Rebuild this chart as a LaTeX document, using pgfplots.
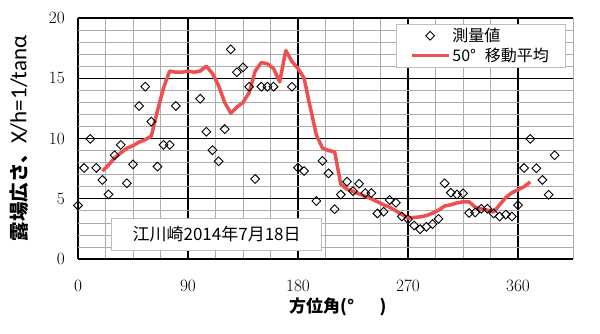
\documentclass[border=0pt]{standalone}
\usepackage{pgfplots}
\pgfplotsset{compat=1.18}
\usepackage{fontspec}
\setmainfont{Carlito}
\newfontfamily\cjk{Noto Sans CJK JP}
\definecolor{avgred}{RGB}{238,80,80}
\pgfplotsset{
  lineleg/.style={legend image code/.code={\draw[##1] (0pt,0pt) -- (37pt,0pt);}},
  markleg/.style={legend image code/.code={\draw[##1] plot coordinates {(18.5pt,0pt)};}},
}
\begin{document}
\begin{tikzpicture}
\useasboundingbox (-78pt,-75pt) rectangle (522pt,259pt);
\begin{axis}[
  at={(0pt,0pt)}, anchor=south west,
  scale only axis, width=495pt, height=241pt,
  xmin=0, xmax=405, ymin=0, ymax=20,
  xtick={0,90,180,270,360}, ytick={0,5,10,15,20},
  minor x tick num=3, minor y tick num=4,
  grid=both,
  major grid style={black, line width=1.3pt},
  minor grid style={gray!65, line width=0.6pt},
  extra x ticks={405}, extra x tick labels={},
  extra x tick style={grid=major, major grid style={gray!65, line width=0.6pt}},
  axis line style={draw=none},
  major tick length=0pt, minor tick length=0pt,
  tick label style={font=\fontsize{18}{20}\selectfont},
  xticklabel style={anchor=center, yshift=-27pt},
  yticklabel style={anchor=east, inner sep=0pt, xshift=-13pt},
  xlabel={\cjk\bfseries 方位角(°\kern1.5em)},
  xlabel style={at={(axis description cs:0.525,-0.199)}, anchor=center, font=\fontsize{17}{20}\selectfont},
  ylabel={{\cjk\bfseries\fontsize{19.5}{22}\selectfont 露場広さ、}{\fontsize{23}{24}\selectfont X/h=1/tanα}},
  ylabel style={at={(axis description cs:-0.1192,0.5)}, anchor=center},
  reverse legend,
  legend style={at={(axis description cs:0.984,0.975)}, anchor=north east,
    draw=gray!50, fill=white, font=\cjk\fontsize{16}{18}\selectfont,
    cells={anchor=west}, inner xsep=14pt, inner ysep=2pt, row sep=1pt},
]
\addplot[avgred, line width=3.5pt, line join=round, lineleg]
coordinates {
(20,7.3)(25,7.8)(30,8.4)(35,8.8)(40,9.2)(45,9.4)(50,9.7)(55,9.9)(60,10.2)
(65,12.3)(70,14.2)(75,15.6)(80,15.5)(85,15.5)(90,15.6)(95,15.5)(100,15.6)
(105,16.0)(110,15.4)(115,14.4)(120,13.0)(125,12.1)(130,12.6)(135,13.0)
(140,13.8)(145,15.6)(150,16.3)(155,16.2)(160,15.8)(165,14.7)(170,17.3)
(175,16.4)(180,15.8)(185,15.0)(190,12.6)(195,10.3)(200,9.2)(205,9.0)
(210,8.9)(215,6.2)(220,5.8)(225,5.6)(230,5.4)(235,5.2)(240,5.0)(245,4.75)
(250,4.5)(255,4.3)(260,4.0)(265,3.7)(270,3.4)(275,3.45)(280,3.5)(285,3.6)
(290,3.8)(295,4.05)(300,4.4)(305,4.5)(310,4.65)(315,4.75)(320,4.75)
(325,4.3)(330,4.15)(335,4.05)(340,3.9)(345,4.5)(350,5.1)(355,5.5)
(360,5.75)(365,6.0)(370,6.4)
};
\addlegendentry{50°\kern0.55em 移動平均}
\addplot[only marks, mark=square, mark size=3.1pt, line width=0.9pt, black,
  mark options={rotate=45, fill=white}, markleg]
coordinates {
(0,4.44)(5,7.56)(10,9.97)(15,7.56)(20,6.56)(25,5.36)(30,8.61)(35,9.47)
(40,6.28)(45,7.86)(50,12.7)(55,14.3)(60,11.4)(65,7.67)(70,9.47)(75,9.47)
(80,12.7)(100,13.3)(105,10.56)(110,9.03)(115,8.11)(120,10.78)(125,17.39)
(130,15.5)(135,15.9)(140,14.3)(145,6.64)(150,14.3)(155,14.3)(160,14.3)
(175,14.3)(180,7.58)(185,7.31)(195,4.81)(200,8.14)(205,7.11)(210,4.13)
(215,5.35)(220,6.42)(225,5.64)(230,6.25)(235,5.47)(240,5.47)(245,3.78)
(250,3.92)(255,4.89)(260,4.67)(265,3.53)(270,3.31)(275,2.78)(280,2.47)
(285,2.67)(290,2.89)(295,3.33)(300,6.28)(305,5.5)(310,5.36)(315,5.44)
(320,3.81)(325,3.86)(330,4.17)(335,4.17)(340,3.78)(345,3.53)(350,3.69)
(355,3.53)(360,4.47)(365,7.56)(370,9.97)(375,7.53)(380,6.56)(385,5.33)
(390,8.61)
};
\addlegendentry{測量値}
\node[draw=gray!50, fill=white, minimum width=210pt, minimum height=32pt,
  font=\cjk\fontsize{17}{20}\selectfont]
  at (axis description cs:0.280,0.104) {江川崎2014年7月18日};
\end{axis}
\end{tikzpicture}
\end{document}
